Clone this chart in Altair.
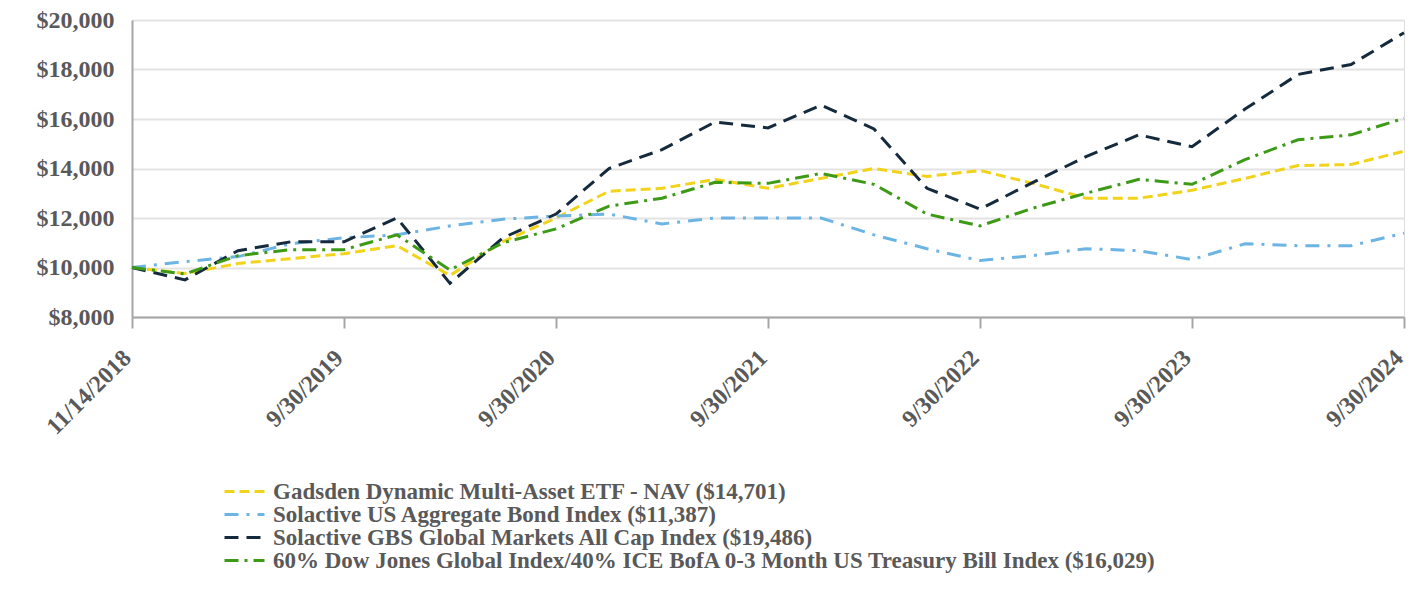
import altair as alt
import pandas as pd

dates = ["11/14/2018", "12/31/2018", "3/31/2019", "6/30/2019", "9/30/2019",
         "12/31/2019", "3/31/2020", "6/30/2020", "9/30/2020",
         "12/31/2020", "3/31/2021", "6/30/2021", "9/30/2021",
         "12/31/2021", "3/31/2022", "6/30/2022", "9/30/2022",
         "12/31/2022", "3/31/2023", "6/30/2023", "9/30/2023",
         "12/31/2023", "3/31/2024", "6/30/2024", "9/30/2024"]
tick_labels = ["11/14/2018", "9/30/2019", "9/30/2020", "9/30/2021",
               "9/30/2022", "9/30/2023", "9/30/2024"]

series_names = [
    "Gadsden Dynamic Multi-Asset ETF - NAV ($14,701)",
    "Solactive US Aggregate Bond Index ($11,387)",
    "Solactive GBS Global Markets All Cap Index ($19,486)",
    "60% Dow Jones Global Index/40% ICE BofA 0-3 Month US Treasury Bill Index ($16,029)",
]

gadsden = [10000, 9760, 10160, 10360, 10560, 10880, 9680, 11050, 12000,
           13080, 13200, 13560, 13200, 13600, 14000, 13680, 13920,
           13400, 12800, 12800, 13120, 13600, 14120, 14160, 14701]
bond = [10000, 10240, 10440, 10960, 11200, 11320, 11680, 11950, 12080,
        12160, 11760, 12000, 12000, 12000, 11320, 10760, 10280,
        10480, 10760, 10680, 10320, 10960, 10880, 10880, 11387]
gbs = [10000, 9500, 10680, 11040, 11040, 12000, 9360, 11200, 12160,
       14000, 14760, 15880, 15640, 16560, 15600, 13200, 12360,
       13440, 14480, 15360, 14880, 16400, 17800, 18200, 19486]
blend = [10000, 9740, 10480, 10720, 10720, 11320, 9900, 11000, 11560,
         12480, 12800, 13440, 13400, 13800, 13360, 12160, 11680,
         12400, 13000, 13560, 13360, 14360, 15160, 15360, 16029]

colors = ["#F2D31B", "#6CB4E4", "#152A3C", "#3C9A16"]
dashes = [[10, 5], [14, 8, 3, 8], [14, 8], [14, 6, 3, 6]]

rows = []
for name, vals in zip(series_names, [gadsden, bond, gbs, blend]):
    for d, v in zip(dates, vals):
        rows.append({"date": d, "value": v, "series": name})
df = pd.DataFrame(rows)

FONT = "Liberation Serif"
GREY = "#595959"

chart = alt.Chart(df).mark_line(strokeWidth=3, interpolate="linear").encode(
    x=alt.X("date:O", sort=dates,
            scale=alt.Scale(type="point", padding=0),
            axis=alt.Axis(values=tick_labels, title=None, labelAngle=-45,
                          labelAlign="right", labelBaseline="middle",
                          labelFont=FONT, labelFontSize=24, labelFontWeight="bold",
                          labelColor=GREY, labelPadding=26, labelOffset=-5,
                          tickSize=11, tickColor="#A6A6A6", tickWidth=2,
                          domainColor="#A6A6A6", domainWidth=2, grid=False)),
    y=alt.Y("value:Q", scale=alt.Scale(domain=[8000, 20000], nice=False),
            axis=alt.Axis(values=[8000, 10000, 12000, 14000, 16000, 18000, 20000],
                          format="$,.0f", title=None, labelFont=FONT,
                          labelFontSize=24, labelFontWeight="bold", labelColor=GREY,
                          labelPadding=18, ticks=False, domainColor="#A6A6A6",
                          domainWidth=2, gridColor="#E3E3E3", gridWidth=2)),
    color=alt.Color("series:N", sort=series_names,
                    scale=alt.Scale(domain=series_names, range=colors),
                    legend=alt.Legend(title=None, orient="none", legendX=91, legendY=461,
                                      direction="vertical", symbolType="stroke",
                                      symbolSize=1600, symbolStrokeWidth=3,
                                      clipHeight=21, rowPadding=-2,
                                      labelFont=FONT, labelFontSize=23,
                                      labelFontWeight="bold", labelColor=GREY,
                                      labelLimit=1200, labelOffset=7)),
    strokeDash=alt.StrokeDash("series:N", sort=series_names,
                              scale=alt.Scale(domain=series_names, range=dashes),
                              legend=None),
).properties(
    width=1272, height=297,
    autosize=alt.AutoSizeParams(type="none"),
    padding={"left": 124, "top": 12, "right": 8, "bottom": 280},
).configure_view(stroke=None).configure(background="white")

chart.save("out.html", embed_options={"renderer": "svg", "actions": False})
